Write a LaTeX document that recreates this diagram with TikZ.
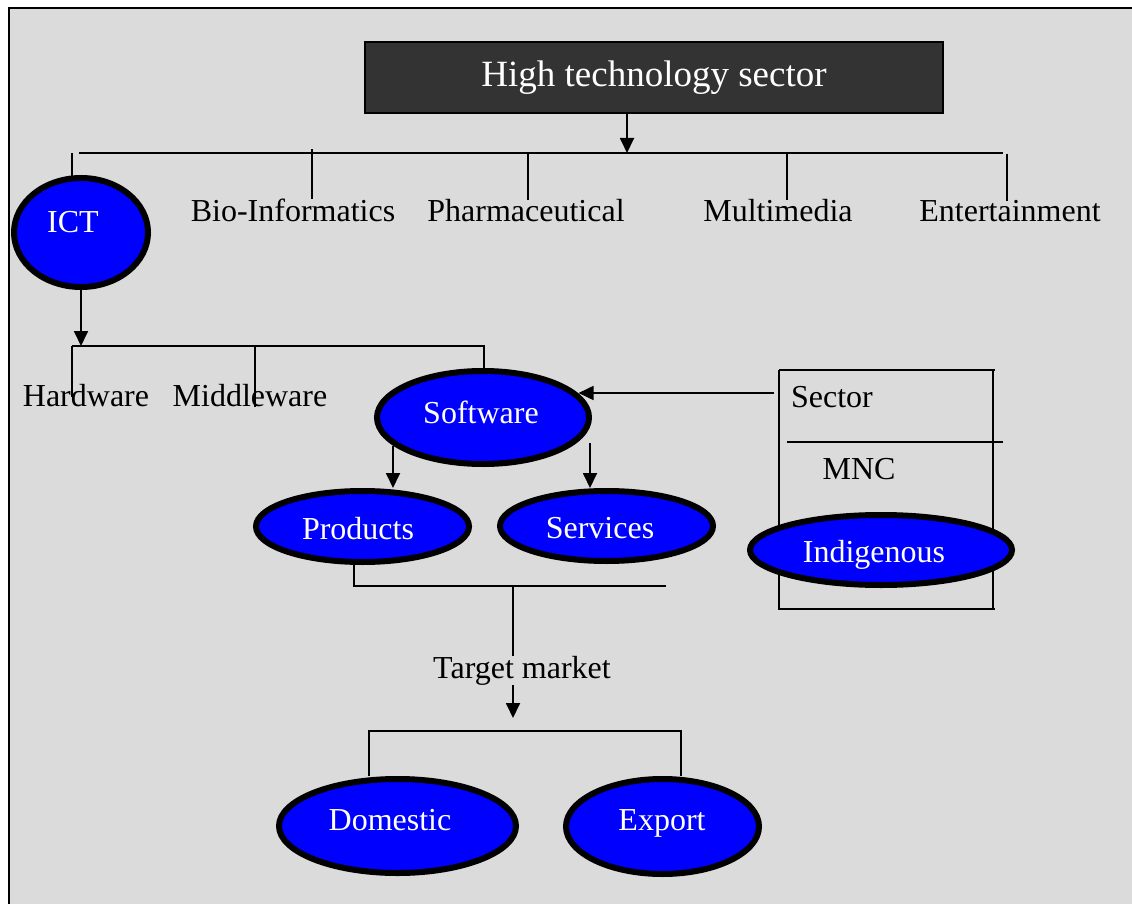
\documentclass[tikz,border=0pt]{standalone}
\usepackage{fontspec}
\setmainfont{Liberation Serif}
\usetikzlibrary{shapes.geometric,arrows.meta}
\definecolor{bggray}{HTML}{DBDBDB}
\definecolor{darkbox}{HTML}{333333}
\definecolor{ovalblue}{HTML}{0000FF}
\begin{document}
\begin{tikzpicture}[x=1pt,y=-1pt,
  oval/.style={ellipse,draw=black,line width=6pt,fill=ovalblue,inner sep=0pt},
  wtxt/.style={text=white,font=\fontsize{32}{38}\selectfont,inner sep=0pt,anchor=base},
  btxt/.style={text=black,font=\fontsize{32}{38}\selectfont,inner sep=0pt,anchor=base},
  wire/.style={line width=1.8pt,draw=black},
  arr/.style={wire,-{Triangle[width=14pt,length=15pt]}}]
\useasboundingbox (0,0) rectangle (1132,904);
% page and frame
\fill[white] (0,0) rectangle (1132,904);
\fill[bggray] (9,8) rectangle (1132,904);
\draw[line width=2.5pt] (8,8) -- (1132,8);
\draw[line width=2.5pt] (9,7) -- (9,904);

% title box
\node[draw=black,line width=1.5pt,fill=darkbox,minimum width=578pt,minimum height=71pt,inner sep=0pt,
      text=white,font=\fontsize{37}{44}\selectfont] (hts) at (654,77.5) {High technology sector};

% first level
\node[oval,minimum width=134pt,minimum height=109pt] (ict) at (81,232.5) {};
\node[wtxt] (ictt) at (73,233) {ICT};
\node[btxt] (bio) at (293,222) {Bio-Informatics};
\node[btxt] (pharma) at (526,222) {Pharmaceutical};
\node[btxt] (multi) at (778,222) {Multimedia};
\node[btxt] (ent) at (1010,222) {Entertainment};

\coordinate (topbus) at (627,153);
\coordinate (topbusL) at (79,153);
\coordinate (topbusR) at (1003,153);
\draw[arr] (hts.south -| topbus) -- (topbus);
\draw[wire] (topbusL) -- (topbusR);
\draw[wire] (72,153) -- (72,176);
\draw[wire] (312,149) -- (bio.north -| 312,0);
\draw[wire] (528,153) -- (pharma.north -| 528,0);
\draw[wire] (787,153) -- (multi.north -| 787,0);
\draw[wire] (1007,154) -- (ent.north -| 1007,0);

% ICT branches
\node[btxt] (hw) at (86,406) {Hardware};
\node[btxt] (mw) at (250,406) {Middleware};
\node[oval,minimum width=212pt,minimum height=93pt] (sw) at (483,417.5) {};
\node[wtxt] (swt) at (481,423) {Software};

\coordinate (midbus) at (81,346);
\coordinate (midbusL) at (72,346);
\coordinate (midbusR) at (484,346);
\draw[arr] (ict.south) -- (midbus);
\draw[wire] (midbusL) -- (midbusR) -- (sw.north -| midbusR);
\draw[wire] (midbusL) -- (72,397);
\draw[wire] (255,346) -- (255,407);

% software split
\node[oval,minimum width=213pt,minimum height=71pt] (prod) at (362.5,526.5) {};
\node[wtxt] (prodt) at (358,539) {Products};
\node[oval,minimum width=213pt,minimum height=70pt] (serv) at (606.5,526) {};
\node[wtxt] (servt) at (600,538) {Services};
\draw[arr] (393,446) -- (prod.north -| 393,0);
\draw[arr] (590,443) -- (serv.north -| 590,0);

% sector box
\draw[wire,line width=1.5pt] (779,370) -- (995,370);
\draw[wire,line width=1.5pt] (779,370) -- (779,609) -- (995,609);
\draw[wire,line width=1.5pt] (993,370) -- (993,609);
\draw[wire,line width=1.5pt] (787,442) -- (1003,442);
\node[btxt] (sector) at (832,407) {Sector};
\node[btxt] (mnc) at (859,479) {MNC};
\node[oval,minimum width=262pt,minimum height=70pt] (indi) at (881,550) {};
\node[wtxt] (indit) at (874,562) {Indigenous};
\coordinate (sectorL) at (774,393);
\draw[arr] (sectorL) -- (sw.14 |- sectorL);

% target market
\coordinate (lowbusL) at (354,586);
\coordinate (lowbusM) at (513,586);
\coordinate (lowbusR) at (666,586);
\coordinate (mkttip) at (513,718);
\node[btxt] (tm) at (522,678) {Target market};
\draw[wire] (prod.south -| lowbusL) -- (lowbusL) -- (lowbusR);
\draw[wire] (lowbusM) -- (tm.north -| lowbusM);
\draw[arr] (tm.south -| lowbusM) -- (mkttip);

% markets
\node[oval,minimum width=237pt,minimum height=94pt] (dom) at (397.5,826) {};
\node[wtxt] (domt) at (390,830) {Domestic};
\node[oval,minimum width=193pt,minimum height=95pt] (exp) at (662.5,826.5) {};
\node[wtxt] (expt) at (662,830) {Export};
\coordinate (brL) at (369,731);
\coordinate (brR) at (681,731);
\draw[wire] (dom.north -| brL) -- (brL) -- (brR) -- (exp.north -| brR);
\end{tikzpicture}
\end{document}
